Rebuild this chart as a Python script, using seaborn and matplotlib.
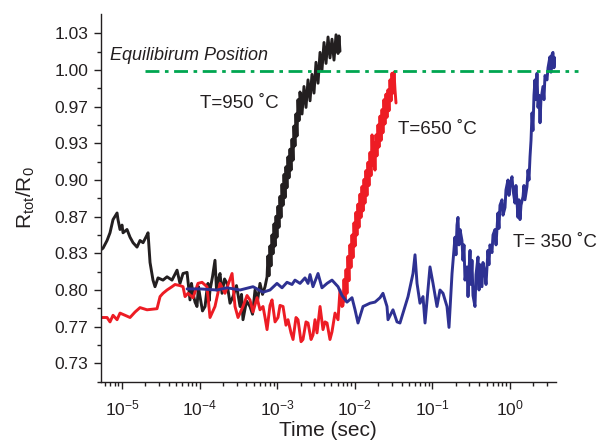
import numpy as np
import pandas as pd
import matplotlib
matplotlib.use("Agg")
import matplotlib.pyplot as plt
import matplotlib.ticker as mticker
import seaborn as sns

# ---------------- data (log10 of time in s, and R_tot/R_0) ----------------
black_logt = [-5.284, -5.245, -5.193, -5.155, -5.116, -5.064, -5.052, -5.026, -5.0, -4.987,
              -4.936, -4.897, -4.858, -4.807, -4.768, -4.729, -4.678, -4.665, -4.639, -4.601,
              -4.575, -4.536, -4.472, -4.420, -4.356, -4.291, -4.253, -4.214,
              -4.162, -4.124, -4.105, -4.085, -4.059, -4.034, -4.015, -3.995, -3.963, -3.930,
              -3.911, -3.892, -3.879, -3.866, -3.834, -3.802, -3.782, -3.763, -3.737, -3.711,
              -3.679, -3.647, -3.608, -3.570, -3.525, -3.479, -3.460, -3.441, -3.396, -3.351,
              -3.318, -3.286, -3.254, -3.222, -3.189, -3.157,
              -3.131, -3.119, -3.106, -3.093, -3.080, -3.067, -3.054, -3.041, -3.028, -3.015,
              -3.003, -2.990, -2.977, -2.964, -2.951, -2.938, -2.925, -2.912, -2.899, -2.887,
              -2.874, -2.861, -2.848, -2.835, -2.822, -2.809, -2.796, -2.784, -2.771, -2.758,
              -2.745, -2.732, -2.719, -2.706, -2.680, -2.655, -2.629, -2.603, -2.577, -2.552,
              -2.526, -2.500, -2.474, -2.448, -2.423, -2.397, -2.371, -2.345, -2.320, -2.294,
              -2.268, -2.242, -2.216, -2.204, -2.191]
black_r = [0.836, 0.838, 0.845, 0.852, 0.864, 0.870, 0.864, 0.855, 0.859, 0.852,
           0.855, 0.848, 0.843, 0.839, 0.845, 0.843, 0.850, 0.852, 0.825, 0.809,
           0.803, 0.811, 0.809, 0.812, 0.809, 0.818, 0.806, 0.815,
           0.816, 0.791, 0.806, 0.797, 0.789, 0.785, 0.803, 0.794, 0.781, 0.785,
           0.797, 0.806, 0.790, 0.800, 0.812, 0.827, 0.800, 0.809, 0.815, 0.797,
           0.810, 0.806, 0.788, 0.794, 0.804, 0.785, 0.796, 0.773, 0.790, 0.785,
           0.778, 0.800, 0.790, 0.806, 0.796, 0.803,
           0.812, 0.831, 0.813, 0.840, 0.822, 0.850, 0.833, 0.860, 0.840, 0.867,
           0.848, 0.876, 0.857, 0.885, 0.866, 0.896, 0.877, 0.905, 0.884, 0.912,
           0.893, 0.921, 0.902, 0.928, 0.909, 0.937, 0.918, 0.949, 0.931, 0.960,
           0.940, 0.973, 0.954, 0.980, 0.960, 0.985, 0.966, 0.991, 0.972, 0.996,
           0.979, 1.007, 0.988, 1.016, 1.000, 1.025, 1.006, 1.030, 1.011, 1.028,
           1.009, 1.032, 1.015, 1.031, 1.017]

red_logt = [-5.284, -5.193, -5.155, -5.116, -5.064, -5.026, -4.961, -4.897, -4.832, -4.768,
            -4.678, -4.549, -4.510, -4.472, -4.420, -4.356, -4.317, -4.253, -4.214, -4.188,
            -4.149, -4.085, -4.021, -3.969, -3.905, -3.866, -3.802, -3.737, -3.673, -3.582,
            -3.544, -3.505, -3.441, -3.389, -3.351, -3.312, -3.260, -3.222, -3.183, -3.157,
            -3.131, -3.093, -3.067, -3.028, -2.990, -2.964, -2.925, -2.887, -2.861, -2.822,
            -2.796, -2.758, -2.732, -2.693, -2.668, -2.629, -2.603, -2.564, -2.539, -2.513,
            -2.487, -2.448, -2.410, -2.384, -2.358, -2.320, -2.294, -2.255, -2.216, -2.191,
            -2.165,
            -2.152, -2.139, -2.126, -2.113, -2.101, -2.088, -2.075, -2.062, -2.049, -2.036,
            -2.023, -2.010, -1.997, -1.985, -1.972, -1.959, -1.946, -1.933, -1.920, -1.907,
            -1.894, -1.881, -1.869, -1.856, -1.843, -1.830, -1.817, -1.804, -1.791, -1.778,
            -1.765, -1.753, -1.740, -1.727, -1.714, -1.701, -1.688, -1.675, -1.662, -1.649,
            -1.637, -1.624, -1.611, -1.598, -1.585, -1.572, -1.559, -1.546, -1.533, -1.521,
            -1.508, -1.495, -1.482, -1.469]
red_r = [0.775, 0.775, 0.771, 0.777, 0.773, 0.779, 0.777, 0.775, 0.780, 0.784,
         0.782, 0.783, 0.794, 0.797, 0.800, 0.803, 0.805, 0.804, 0.803, 0.794,
         0.797, 0.793, 0.806, 0.807, 0.803, 0.775, 0.785, 0.806, 0.797, 0.815,
         0.785, 0.775, 0.785, 0.795, 0.791, 0.780, 0.793, 0.782, 0.785, 0.775,
         0.764, 0.786, 0.791, 0.771, 0.775, 0.786, 0.785, 0.768, 0.773, 0.761,
         0.755, 0.775, 0.773, 0.753, 0.755, 0.771, 0.770, 0.755, 0.759, 0.773,
         0.761, 0.785, 0.764, 0.771, 0.770, 0.755, 0.762, 0.779, 0.773, 0.800,
         0.785,
         0.786, 0.8095, 0.790, 0.8185, 0.797, 0.8305, 0.8085, 0.841, 0.8205, 0.850,
         0.8295, 0.861, 0.840, 0.8705, 0.850, 0.878, 0.857, 0.887, 0.866, 0.894,
         0.872, 0.9005, 0.879, 0.9085, 0.886, 0.916, 0.895, 0.925, 0.904, 0.941,
         0.913, 0.934, 0.909, 0.941, 0.922, 0.950, 0.930, 0.958, 0.936, 0.964,
         0.943, 0.973, 0.951, 0.978, 0.957, 0.982, 0.963, 0.991, 0.972, 0.997,
         0.979, 0.998, 0.982, 0.970]

blue_logt = [-4.162, -3.995, -3.776, -3.647, -3.479, -3.312, -3.183, -3.093, -3.003, -2.938,
             -2.874, -2.809, -2.771, -2.706, -2.642, -2.603, -2.577, -2.539, -2.474, -2.423,
             -2.358, -2.294, -2.255, -2.216, -2.165, -2.101, -2.036, -1.997, -1.959, -1.894,
             -1.804, -1.740, -1.675, -1.637, -1.585, -1.572, -1.508, -1.456, -1.418, -1.353,
             -1.314, -1.250, -1.224, -1.198, -1.160, -1.121, -1.095, -1.031, -0.992, -0.941,
             -0.902, -0.863, -0.812, -0.786, -0.747, -0.709, -0.696, -0.683, -0.670, -0.657,
             -0.644, -0.619, -0.606, -0.593, -0.580, -0.554, -0.541, -0.528, -0.515, -0.503,
             -0.490, -0.477, -0.451, -0.438, -0.412, -0.399, -0.387, -0.361, -0.348, -0.322,
             -0.309, -0.284, -0.271, -0.258, -0.232, -0.219, -0.193, -0.180, -0.155, -0.142,
             -0.129, -0.103, -0.090, -0.064, -0.052, -0.026, -0.013, 0.000, 0.026, 0.039,
             0.064, 0.077, 0.103, 0.116, 0.129, 0.142, 0.168, 0.180, 0.193, 0.219,
             0.232, 0.245, 0.258, 0.271, 0.284, 0.296, 0.309, 0.322, 0.335, 0.348,
             0.361, 0.374, 0.387, 0.399, 0.425, 0.438, 0.451, 0.477, 0.490, 0.515,
             0.528, 0.541, 0.554, 0.567, 0.580, 0.593]
blue_r = [0.801, 0.801, 0.800, 0.802, 0.800, 0.803, 0.798, 0.800, 0.806, 0.802,
          0.807, 0.805, 0.809, 0.806, 0.811, 0.806, 0.814, 0.803, 0.815, 0.802,
          0.806, 0.809, 0.806, 0.803, 0.795, 0.789, 0.793, 0.782, 0.770, 0.785,
          0.788, 0.789, 0.793, 0.797, 0.785, 0.773, 0.782, 0.771, 0.770, 0.785,
          0.794, 0.815, 0.832, 0.806, 0.788, 0.794, 0.770, 0.821, 0.806, 0.785,
          0.800, 0.797, 0.785, 0.766, 0.815, 0.848, 0.832, 0.859, 0.866, 0.841,
          0.855, 0.845, 0.827, 0.841, 0.809, 0.821, 0.794, 0.818, 0.836, 0.805,
          0.827, 0.795, 0.785, 0.814, 0.830, 0.800, 0.823, 0.803, 0.825, 0.815,
          0.805, 0.836, 0.823, 0.841, 0.834, 0.850, 0.855, 0.841, 0.870, 0.856,
          0.877, 0.882, 0.868, 0.875, 0.891, 0.900, 0.886, 0.895, 0.903, 0.891,
          0.879, 0.895, 0.866, 0.882, 0.864, 0.877, 0.885, 0.895, 0.882, 0.894,
          0.909, 0.900, 0.921, 0.936, 0.961, 0.945, 0.977, 0.991, 0.973, 0.997,
          0.966, 0.977, 0.952, 0.973, 0.985, 0.973, 0.995, 0.991, 1.002, 1.012,
          0.998, 1.014, 1.016, 1.002, 1.011, 1.006]

series_names = ["T=950", "T=650", "T=350"]
series_colors = ["#231f20", "#ed1c24", "#2e3192"]
labels = ["T=950 \u02daC", "T=650 \u02daC", "T= 350 \u02daC"]

eq_t = [2.0e-5, 7.5]
eq_r = [0.999, 0.999]

ytick_vals = [1.0 + 1 / 30 - k / 30 for k in range(10)]

# ---------------- build table ----------------
frames = []
for name, lt, rr in zip(series_names, [black_logt, red_logt, blue_logt], [black_r, red_r, blue_r]):
    frames.append(pd.DataFrame({"series": name, "time": np.power(10.0, lt), "ratio": rr}))
df = pd.concat(frames, ignore_index=True)

# ---------------- style ----------------
sns.set_style("ticks")
plt.rcParams["font.family"] = ["Liberation Sans", "DejaVu Sans"]
plt.rcParams["mathtext.fontset"] = "custom"
plt.rcParams["mathtext.rm"] = "Liberation Sans"
plt.rcParams["mathtext.it"] = "Liberation Sans:italic"
plt.rcParams["mathtext.bf"] = "Liberation Sans:bold"
txt_color = "#231f20"

fig = plt.figure(figsize=(5.97, 4.45), dpi=100)
ax = fig.add_axes([101 / 597, 1 - 382 / 445, (556 - 101) / 597, (382 - 14) / 445])

sns.lineplot(data=df, x="time", y="ratio", hue="series", hue_order=series_names,
             palette=dict(zip(series_names, series_colors)), estimator=None, sort=False,
             linewidth=2.1, legend=False, ax=ax)

ax.plot(eq_t, eq_r, color="#00a650", linewidth=2.0, dashes=(5.0, 2.0, 1.3, 2.0),
        clip_on=False, zorder=5)

ax.set_xscale("log")
ax.set_xlim(10 ** -5.271, 10 ** 0.593)
ax.set_ylim(1 - 312 / 1100, 1 + 56 / 1100)

ax.yaxis.set_major_locator(mticker.FixedLocator(ytick_vals))
ax.yaxis.set_major_formatter(mticker.FormatStrFormatter("%.2f"))
ax.yaxis.set_minor_locator(mticker.FixedLocator([v - 1 / 60 for v in ytick_vals]))
ax.xaxis.set_major_locator(mticker.LogLocator(base=10, numticks=20))
ax.xaxis.set_minor_locator(mticker.LogLocator(base=10, subs=np.arange(2, 10), numticks=20))

for s in ["top", "right"]:
    ax.spines[s].set_visible(False)
for s in ["left", "bottom"]:
    ax.spines[s].set_linewidth(1.0)
    ax.spines[s].set_color(txt_color)

ax.tick_params(axis="both", which="major", direction="out", length=5, width=1.0,
               colors=txt_color, labelsize=12.5)
ax.tick_params(axis="both", which="minor", direction="out", length=3, width=1.0,
               colors=txt_color)
ax.tick_params(axis="y", which="major", pad=4)
ax.tick_params(axis="x", which="major", pad=7)

ax.set_xlabel("Time (sec)", fontsize=15, color=txt_color)
ax.set_ylabel(r"R$_{\mathrm{tot}}$/R$_0$", fontsize=15, color=txt_color)
ax.xaxis.set_label_coords(0.499, -0.105)
ax.yaxis.set_label_coords(-0.14, 0.5)

ax.text(10 ** -5.155, 1.009, "Equilibirum Position", fontsize=13, style="italic",
        color=txt_color, ha="left", va="baseline")
ax.text(10 ** -3.995, 0.9655, labels[0], fontsize=13.5, color=txt_color, ha="left", va="baseline")
ax.text(10 ** -1.443, 0.9418, labels[1], fontsize=13.5, color=txt_color, ha="left", va="baseline")
ax.text(10 ** 0.039, 0.839, labels[2], fontsize=13.5, color=txt_color, ha="left", va="baseline",
        clip_on=False)

fig.savefig("out.png", dpi=100)
